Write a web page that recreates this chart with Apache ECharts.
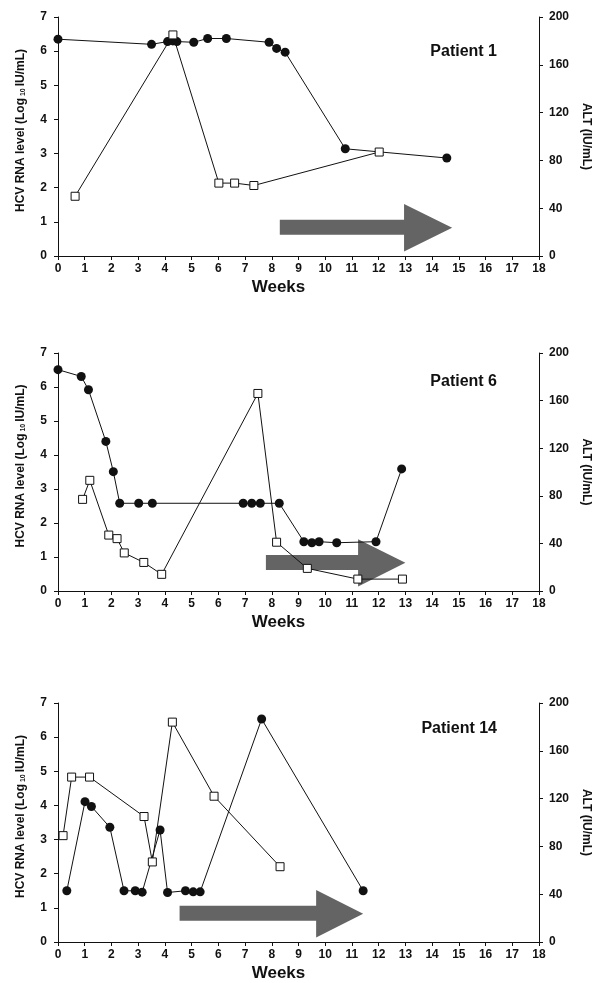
<!DOCTYPE html>
<html>
<head>
<meta charset="utf-8">
<script src="https://cdn.jsdelivr.net/npm/echarts@6/dist/echarts.min.js"></script>
<style>
    html, body {margin: 0; padding: 0; background: #fff;}
    #app {width: 595px; height: 983px;}
</style>
</head>
<body>
<div id="app"></div>
<script>
// axis ranges
var weekRange = [0, 18]
var rnaRange = [0, 7]
var altRange = [0, 200]
var altStep = 40

// Patient 1
var hcvWeeks1 = [0, 3.5, 4.1, 4.3, 4.45, 5.08, 5.6, 6.3, 7.9, 8.18, 8.5, 10.75, 14.55]
var hcvLoad1 = [6.35, 6.2, 6.28, 6.3, 6.28, 6.26, 6.37, 6.37, 6.26, 6.08, 5.97, 3.14, 2.87]
var altWeeks1 = [0.64, 4.3, 6.02, 6.61, 7.33, 12.02]
var altLevel1 = [50, 185, 61, 61, 59, 87]
var treat1 = [8.3, 12.95, 14.75]

// Patient 6
var hcvWeeks6 = [0, 0.87, 1.14, 1.79, 2.07, 2.31, 3.02, 3.53, 6.93, 7.25, 7.57, 8.28, 9.2, 9.5, 9.77, 10.43, 11.9, 12.86]
var hcvLoad6 = [6.51, 6.31, 5.92, 4.4, 3.51, 2.58, 2.58, 2.58, 2.58, 2.58, 2.58, 2.58, 1.45, 1.42, 1.45, 1.42, 1.45, 3.59]
var altWeeks6 = [0.92, 1.19, 1.9, 2.21, 2.48, 3.21, 3.88, 7.48, 8.18, 9.33, 11.22, 12.89]
var altLevel6 = [77, 93, 47, 44, 32, 24, 14, 166, 41, 19, 10, 10]
var treat6 = [7.78, 11.23, 13.0]

// Patient 14
var hcvWeeks14 = [0.33, 1.01, 1.25, 1.94, 2.47, 2.89, 3.15, 3.82, 4.1, 4.77, 5.06, 5.32, 7.62, 11.42]
var hcvLoad14 = [1.5, 4.11, 3.97, 3.36, 1.5, 1.5, 1.46, 3.28, 1.45, 1.5, 1.47, 1.47, 6.53, 1.5]
var altWeeks14 = [0.19, 0.51, 1.18, 3.22, 3.53, 4.28, 5.84, 8.31]
var altLevel14 = [89, 138, 138, 105, 67, 184, 122, 63]
var treat14 = [4.55, 9.66, 11.42]

var panels = [
    {title: 'Patient 1', top: 17, height: 239, titleTop: 44, hw: hcvWeeks1, hv: hcvLoad1, aw: altWeeks1, av: altLevel1, treat: treat1},
    {title: 'Patient 6', top: 353, height: 238, titleTop: 374, hw: hcvWeeks6, hv: hcvLoad6, aw: altWeeks6, av: altLevel6, treat: treat6},
    {title: 'Patient 14', top: 703, height: 239, titleTop: 721, hw: hcvWeeks14, hv: hcvLoad14, aw: altWeeks14, av: altLevel14, treat: treat14}
]

var font = "'Liberation Sans', Arial, sans-serif"
var ink = '#111'

var zip = (xs, ys) => xs.map((x, i) => [x, ys[i]])

// treatment arrow, drawn in data coords of the left axis
var drawArrow = (params, api) => {
    var s = api.value(0), h = api.value(1), t = api.value(2)
    var pts = [
        api.coord([s, 1.06]), api.coord([h, 1.06]), api.coord([h, 1.52]),
        api.coord([t, 0.83]),
        api.coord([h, 0.13]), api.coord([h, 0.62]), api.coord([s, 0.62])
    ]
    return {
        type: 'polygon',
        shape: {points: pts},
        style: {fill: '#646464'}
    }
}

var option = {
    animation: false,
    backgroundColor: '#fff',
    title: [],
    grid: [],
    xAxis: [],
    yAxis: [],
    series: []
}

panels.forEach((p, i) => {
    option.title.push({
        text: p.title,
        right: 98,
        top: p.titleTop,
        padding: 0,
        textStyle: {fontFamily: font, fontSize: 16, fontWeight: 'bold', color: ink}
    })
    option.grid.push({left: 58, right: 56, top: p.top, height: p.height, containLabel: false, outerBoundsMode: 'none'})
    option.xAxis.push({
        type: 'value',
        gridIndex: i,
        min: weekRange[0],
        max: weekRange[1],
        interval: 1,
        name: 'Weeks',
        nameLocation: 'middle',
        nameGap: 23,
        nameTextStyle: {fontFamily: font, fontSize: 17, fontWeight: 'bold', color: ink, padding: [0, 40, 0, 0]},
        axisLine: {lineStyle: {color: ink, width: 1}},
        axisTick: {inside: false, length: 4, lineStyle: {color: ink}},
        axisLabel: {fontFamily: font, fontSize: 12, fontWeight: 'bold', color: ink, margin: 7},
        splitLine: {show: false}
    })
    option.yAxis.push({
        type: 'value',
        gridIndex: i,
        position: 'left',
        min: rnaRange[0],
        max: rnaRange[1],
        interval: 1,
        name: '{a|HCV RNA level (Log}{s| 10 }{a|IU/mL)}',
        nameLocation: 'middle',
        nameGap: 31,
        nameTextStyle: {
            padding: [0, 0, 0, 12],
            rich: {
                a: {fontFamily: font, fontSize: 12, fontWeight: 'bold', color: ink},
                s: {fontFamily: font, fontSize: 7, fontWeight: 'bold', color: ink, verticalAlign: 'bottom', padding: [6, 0, 0, 0]}
            }
        },
        axisLine: {show: true, lineStyle: {color: ink, width: 1}},
        axisTick: {show: true, inside: false, length: 4, lineStyle: {color: ink}},
        axisLabel: {fontFamily: font, fontSize: 12, fontWeight: 'bold', color: ink, margin: 11},
        splitLine: {show: false}
    })
    option.yAxis.push({
        type: 'value',
        gridIndex: i,
        position: 'right',
        min: altRange[0],
        max: altRange[1],
        interval: altStep,
        name: 'ALT (IU/mL)',
        nameLocation: 'middle',
        nameRotate: -90,
        nameGap: 40,
        nameTextStyle: {fontFamily: font, fontSize: 12, fontWeight: 'bold', color: ink},
        axisLine: {show: true, lineStyle: {color: ink, width: 1}},
        axisTick: {show: true, inside: false, length: 4, lineStyle: {color: ink}},
        axisLabel: {fontFamily: font, fontSize: 12, fontWeight: 'bold', color: ink, margin: 10},
        splitLine: {show: false}
    })
    option.series.push({
        type: 'custom',
        name: 'treatment',
        xAxisIndex: i,
        yAxisIndex: i * 2,
        z: 1,
        renderItem: drawArrow,
        encode: {x: [0, 1, 2]},
        data: [p.treat],
        silent: true
    })
    option.series.push({
        type: 'line',
        name: 'HCV RNA',
        xAxisIndex: i,
        yAxisIndex: i * 2,
        z: 3,
        data: zip(p.hw, p.hv),
        symbol: 'circle',
        symbolSize: 9,
        lineStyle: {color: ink, width: 1},
        itemStyle: {color: ink, borderWidth: 0},
        showAllSymbol: true
    })
    option.series.push({
        type: 'line',
        name: 'ALT',
        xAxisIndex: i,
        yAxisIndex: i * 2 + 1,
        z: 4,
        data: zip(p.aw, p.av),
        symbol: 'rect',
        symbolSize: 8,
        lineStyle: {color: ink, width: 1},
        itemStyle: {color: '#fff', borderColor: ink, borderWidth: 1},
        showAllSymbol: true
    })
})

var chart = echarts.init(document.getElementById('app'))
chart.setOption(option)
</script>
</body>
</html>
